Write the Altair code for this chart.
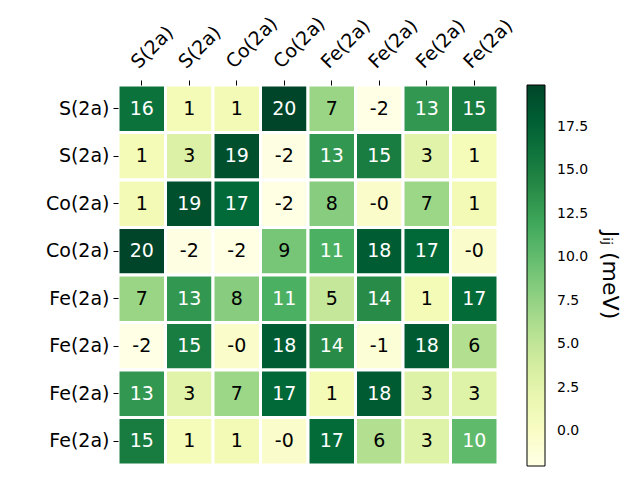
import json
import altair as alt
import pandas as pd

labels = ["S(2a)", "S(2a)", "Co(2a)", "Co(2a)", "Fe(2a)", "Fe(2a)", "Fe(2a)", "Fe(2a)"]

row0 = [16.2, 1.0, 1.2, 19.9, 7.2, -2.0, 13.1, 15.3]
row1 = [1.0, 3.2, 19.1, -1.8, 13.1, 15.2, 2.8, 0.9]
row2 = [1.2, 19.1, 17.0, -1.9, 8.2, -0.3, 7.1, 1.1]
row3 = [19.9, -1.8, -1.9, 9.0, 11.2, 18.0, 17.1, -0.4]
row4 = [7.2, 13.1, 8.2, 11.2, 4.8, 13.9, 1.0, 16.9]
row5 = [-2.0, 15.2, -0.3, 18.0, 13.9, -1.0, 18.2, 5.9]
row6 = [13.1, 2.8, 7.1, 17.1, 1.0, 18.2, 3.0, 2.9]
row7 = [15.3, 0.9, 1.1, -0.4, 16.9, 5.9, 2.9, 10.2]

cbar_ticks = [0.0, 2.5, 5.0, 7.5, 10.0, 12.5, 15.0, 17.5]
cbar_title = "Jᵢⱼ (meV)"

# matplotlib YlGn colour stops
ylgn = ["#ffffe5", "#f7fcb9", "#d9f0a3", "#addd8e", "#78c679",
        "#41ab5d", "#238443", "#006837", "#004529"]
vmin, vmax = -2.0, 19.9
stops = [vmin + (vmax - vmin) * k / (len(ylgn) - 1) for k in range(len(ylgn))]

rows = [row0, row1, row2, row3, row4, row5, row6, row7]
records = []
for i, r in enumerate(rows):
    for j, v in enumerate(r):
        records.append({"row": i, "col": j, "v": v, "txt": f"{v:.0f}"})
df = pd.DataFrame(records)

label_expr = json.dumps(labels) + "[datum.value]"
FONT = "DejaVu Sans"

x = alt.X("col:O", title=None,
          scale=alt.Scale(paddingInner=0, paddingOuter=0),
          axis=alt.Axis(orient="top", labelExpr=label_expr, labelAngle=-45,
                        labelAlign="left", labelBaseline="alphabetic",
                        labelOffset=-3, labelPadding=11,
                        labelFontSize=19, labelFont=FONT, labelColor="black",
                        tickSize=5, tickColor="black", domain=False, grid=False))
y = alt.Y("row:O", title=None,
          scale=alt.Scale(paddingInner=0, paddingOuter=0),
          axis=alt.Axis(labelExpr=label_expr, labelFontSize=19, labelFont=FONT,
                        labelColor="black", labelPadding=4,
                        tickSize=5, tickColor="black", domain=False, grid=False))

rect = alt.Chart(df).mark_rect(stroke="white", strokeWidth=3).encode(
    x=x, y=y,
    color=alt.Color("v:Q",
                    scale=alt.Scale(domain=stops, range=ylgn, interpolate="rgb"),
                    legend=alt.Legend(orient="none", legendX=409, legendY=0,
                                      direction="vertical", gradientLength=381,
                                      gradientThickness=18,
                                      gradientStrokeColor="black",
                                      gradientStrokeWidth=1,
                                      values=cbar_ticks, format=".1f",
                                      labelFontSize=14, labelFont=FONT,
                                      labelColor="black", labelOffset=12,
                                      title=None)),
)

text = alt.Chart(df).mark_text(fontSize=19, font=FONT).encode(
    x=x, y=y,
    text="txt:N",
    color=alt.condition(alt.datum.v > 9.5, alt.value("white"), alt.value("black")),
)

title_df = pd.DataFrame({"t": [cbar_title]})
cb_title = alt.Chart(title_df).mark_text(
    fontSize=22, font=FONT, angle=90, color="black", align="center", baseline="middle"
).encode(x=alt.value(492), y=alt.value(190), text="t:N")

chart = (rect + text + cb_title).properties(
    width=380, height=380,
    padding={"left": 110, "top": 77, "right": 130, "bottom": 10},
    autosize="none",
    background="white",
).configure_view(stroke=None)

chart.save("out.html", embed_options={"renderer": "svg", "actions": False})
